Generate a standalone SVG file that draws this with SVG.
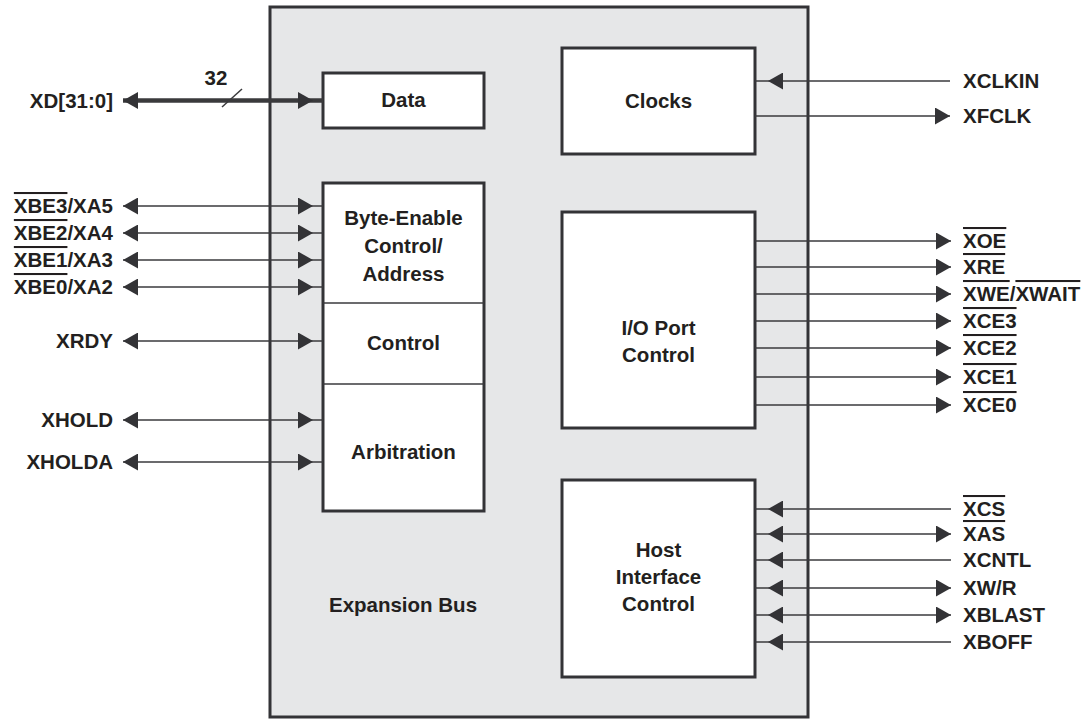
<svg xmlns="http://www.w3.org/2000/svg" width="1091" height="721" viewBox="0 0 1091 721">
<style>
text{font-family:"Liberation Sans",Arial,sans-serif;font-weight:bold;font-size:20.5px;fill:#231f20}
.l{text-anchor:end}
.c{text-anchor:middle}
.ob{text-decoration:overline}
.box{fill:#fff;stroke:#333336;stroke-width:3}
.sig{fill:none;stroke:#3a3a3c;stroke-width:1.5}
.bus{fill:none;stroke:#3a3a3c;stroke-width:4.5}
.div{stroke:#3a3a3c;stroke-width:1.5}
</style>
<defs>
<marker id="ah" markerUnits="userSpaceOnUse" markerWidth="15" markerHeight="17" refX="15" refY="8.5" orient="auto" viewBox="0 0 15 17">
<path d="M0,0 L15,8.5 L0,17 Z" fill="#333336"/>
</marker>
<marker id="ahs" markerUnits="userSpaceOnUse" markerWidth="15" markerHeight="17" refX="15" refY="8.5" orient="auto-start-reverse" viewBox="0 0 15 17">
<path d="M0,0 L15,8.5 L0,17 Z" fill="#333336"/>
</marker>
</defs>

<g id="expansion-bus">
<rect x="270" y="7" width="538" height="710" fill="#e6e7e8" stroke="#333336" stroke-width="3"/>
<text class="c" x="403" y="612">Expansion Bus</text>
</g>

<g id="data">
<rect class="box" x="323" y="73" width="161" height="55"/>
<text class="c" x="403.5" y="107">Data</text>
</g>

<g id="byte-enable">
<rect class="box" x="323" y="183" width="161" height="328"/>
<line class="div" x1="323" y1="303" x2="484" y2="303"/>
<line class="div" x1="323" y1="384" x2="484" y2="384"/>
<text class="c" x="403.5" y="225">Byte-Enable</text>
<text class="c" x="403.5" y="253">Control/</text>
<text class="c" x="403.5" y="281">Address</text>
<text class="c" x="403.5" y="350">Control</text>
<text class="c" x="403.5" y="459">Arbitration</text>
</g>

<g id="clocks">
<rect class="box" x="562" y="48" width="193" height="106"/>
<text class="c" x="658.5" y="108">Clocks</text>
</g>

<g id="io-port">
<rect class="box" x="562" y="212" width="193" height="216"/>
<text class="c" x="658.5" y="335">I/O Port</text>
<text class="c" x="658.5" y="362">Control</text>
</g>

<g id="host-interface">
<rect class="box" x="562" y="480" width="193" height="197"/>
<text class="c" x="658.5" y="557">Host</text>
<text class="c" x="658.5" y="584">Interface</text>
<text class="c" x="658.5" y="611">Control</text>
</g>

<g id="connectors">
<polyline class="bus" points="123,100.5 313,100.5 323,100.5" marker-start="url(#ahs)" marker-mid="url(#ah)"/>
<line class="sig" x1="222" y1="107" x2="242" y2="89"/>
<polyline class="sig" points="123,206 313,206 323,206" marker-start="url(#ahs)" marker-mid="url(#ah)"/>
<polyline class="sig" points="123,233 313,233 323,233" marker-start="url(#ahs)" marker-mid="url(#ah)"/>
<polyline class="sig" points="123,260 313,260 323,260" marker-start="url(#ahs)" marker-mid="url(#ah)"/>
<polyline class="sig" points="123,287 313,287 323,287" marker-start="url(#ahs)" marker-mid="url(#ah)"/>
<polyline class="sig" points="123,341 313,341 323,341" marker-start="url(#ahs)" marker-mid="url(#ah)"/>
<polyline class="sig" points="123,420 313,420 323,420" marker-start="url(#ahs)" marker-mid="url(#ah)"/>
<polyline class="sig" points="123,462 313,462 323,462" marker-start="url(#ahs)" marker-mid="url(#ah)"/>

<polyline class="sig" points="950,81 768,81 755,81" marker-mid="url(#ah)"/>
<line class="sig" x1="755" y1="116" x2="950" y2="116" marker-end="url(#ah)"/>

<line class="sig" x1="755" y1="241" x2="951" y2="241" marker-end="url(#ah)"/>
<line class="sig" x1="755" y1="267" x2="951" y2="267" marker-end="url(#ah)"/>
<line class="sig" x1="755" y1="294" x2="951" y2="294" marker-end="url(#ah)"/>
<line class="sig" x1="755" y1="321" x2="951" y2="321" marker-end="url(#ah)"/>
<line class="sig" x1="755" y1="348" x2="951" y2="348" marker-end="url(#ah)"/>
<line class="sig" x1="755" y1="377" x2="951" y2="377" marker-end="url(#ah)"/>
<line class="sig" x1="755" y1="405" x2="951" y2="405" marker-end="url(#ah)"/>

<polyline class="sig" points="951,509 768,509 755,509" marker-mid="url(#ah)"/>
<polyline class="sig" points="951,534 768,534 755,534" marker-start="url(#ahs)" marker-mid="url(#ah)"/>
<polyline class="sig" points="951,560 768,560 755,560" marker-mid="url(#ah)"/>
<polyline class="sig" points="951,588 768,588 755,588" marker-start="url(#ahs)" marker-mid="url(#ah)"/>
<polyline class="sig" points="951,615 768,615 755,615" marker-start="url(#ahs)" marker-mid="url(#ah)"/>
<polyline class="sig" points="951,642 768,642 755,642" marker-mid="url(#ah)"/>
</g>

<g id="left-labels">
<text class="c" x="216" y="85">32</text>
<text class="l" x="113" y="108">XD[31:0]</text>
<text class="l" x="113" y="213"><tspan class="ob">XBE3</tspan>/XA5</text>
<text class="l" x="113" y="240"><tspan class="ob">XBE2</tspan>/XA4</text>
<text class="l" x="113" y="267"><tspan class="ob">XBE1</tspan>/XA3</text>
<text class="l" x="113" y="294"><tspan class="ob">XBE0</tspan>/XA2</text>
<text class="l" x="113" y="348">XRDY</text>
<text class="l" x="113" y="427">XHOLD</text>
<text class="l" x="113" y="469">XHOLDA</text>
</g>

<g id="right-labels">
<text x="963" y="88">XCLKIN</text>
<text x="963" y="123">XFCLK</text>
<text x="963" y="248"><tspan class="ob">XOE</tspan></text>
<text x="963" y="274"><tspan class="ob">XRE</tspan></text>
<text x="963" y="301"><tspan class="ob">XWE</tspan>/<tspan class="ob">XWAIT</tspan></text>
<text x="963" y="328"><tspan class="ob">XCE3</tspan></text>
<text x="963" y="355"><tspan class="ob">XCE2</tspan></text>
<text x="963" y="384"><tspan class="ob">XCE1</tspan></text>
<text x="963" y="412"><tspan class="ob">XCE0</tspan></text>
<text x="963" y="516"><tspan class="ob">XCS</tspan></text>
<text x="963" y="541"><tspan class="ob">XAS</tspan></text>
<text x="963" y="567">XCNTL</text>
<text x="963" y="595">XW/R</text>
<text x="963" y="622">XBLAST</text>
<text x="963" y="649">XBOFF</text>
</g>
</svg>
